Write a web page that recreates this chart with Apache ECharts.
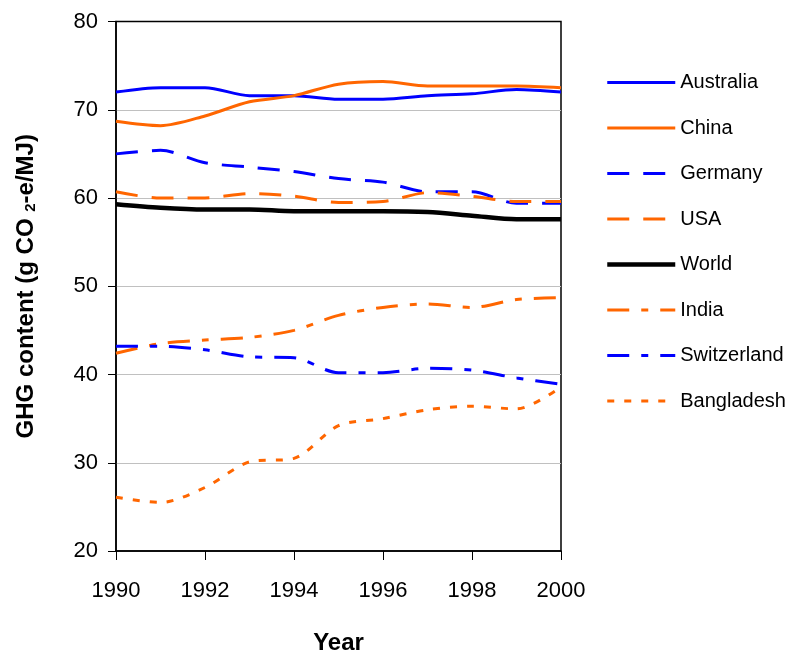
<!DOCTYPE html>
<html>
<head>
<meta charset="utf-8">
<script src="https://cdn.jsdelivr.net/npm/echarts@6/dist/echarts.min.js"></script>
<style>html,body{margin:0;padding:0;background:#fff;}#c{width:789px;height:660px;}</style>
</head>
<body>
<div id="c"></div>
<script>
const years = [1990,1991,1992,1993,1994,1995,1996,1997,1998,1999,2000];
const australia   = [72.0,72.5,72.5,71.6,71.6,71.2,71.2,71.6,71.8,72.3,72.0];
const china       = [68.7,68.2,69.3,70.9,71.6,72.9,73.2,72.7,72.7,72.7,72.5];
const germany     = [65.0,65.4,64.0,63.5,63.0,62.2,61.8,60.7,60.7,59.4,59.4];
const usa         = [60.7,60.0,60.0,60.5,60.2,59.5,59.6,60.6,60.2,59.6,59.6];
const world       = [59.3,58.9,58.7,58.7,58.5,58.5,58.5,58.4,58.0,57.6,57.6];
const india       = [42.4,43.5,43.9,44.2,45.0,46.7,47.6,48.0,47.6,48.5,48.7];
const switzerland = [43.2,43.2,42.8,42.0,41.9,40.2,40.2,40.7,40.5,39.6,38.9];
const bangladesh  = [26.1,25.5,27.2,30.1,30.5,34.2,35.0,36.0,36.4,36.1,38.6];
const yTicks = [20,30,40,50,60,70,80];
const xTicks = [1990,1992,1994,1996,1998,2000];

const BLUE = '#0000FF', ORANGE = '#FF6600', BLACK = '#000000';
const FONT = 'Liberation Sans, Arial, sans-serif';
function pairs(v){ return years.map((y,i)=>[y,v[i]]); }
const defs = [
  ['Australia', australia, BLUE, 3, 'solid'],
  ['China', china, ORANGE, 3, 'solid'],
  ['Germany', germany, BLUE, 3, [22,14]],
  ['USA', usa, ORANGE, 3, [22,14]],
  ['World', world, BLACK, 4.5, 'solid'],
  ['India', india, ORANGE, 3, [22,12,7,12]],
  ['Switzerland', switzerland, BLUE, 3, [22,12,7,12]],
  ['Bangladesh', bangladesh, ORANGE, 3, [7,10]]
];
const series = defs.map(([name, vals, color, width, type]) => ({
  name, type:'line', data: pairs(vals), symbol:'none', smooth:0.3,
  lineStyle:{color, width, type, cap:'butt'}, itemStyle:{color},
  emphasis:{disabled:true}
}));
const legendData = defs.map(([name, vals, color, width, type]) => ({
  name, lineStyle:{color, width, type, cap:'butt'}, itemStyle:{opacity:0, borderWidth:0}
}));
const chart = echarts.init(document.getElementById('c'), null, {renderer:'canvas'});
chart.setOption({
  animation:false,
  backgroundColor:'#fff',
  textStyle:{fontFamily:FONT},
  grid:{left:116, top:21.5, right:228, bottom:104, show:true, borderColor:'#000', borderWidth:1.5, backgroundColor:'transparent'},
  xAxis:{
    type:'value', min:1990, max:2000, interval:2,
    name:'Year', nameLocation:'middle', nameGap:80,
    nameTextStyle:{fontSize:24, fontWeight:'bold', color:'#000', fontFamily:FONT},
    axisLine:{show:true, lineStyle:{color:'#000', width:1.5}},
    axisTick:{show:true, length:9, lineStyle:{color:'#000', width:1}},
    axisLabel:{fontSize:22, color:'#000', margin:29, formatter: v => xTicks.includes(v) ? String(v) : ''},
    splitLine:{show:false}
  },
  yAxis:{
    type:'value', min:20, max:80, interval:10,
    name:'{m|GHG content (g CO }{s|2}{m|-e/MJ)}', nameLocation:'middle', nameGap:78, nameRotate:90,
    nameTextStyle:{
      rich:{
        m:{fontSize:24, fontWeight:'bold', color:'#000', fontFamily:FONT, lineHeight:28, verticalAlign:'bottom'},
        s:{fontSize:15, fontWeight:'bold', color:'#000', fontFamily:FONT, lineHeight:28, verticalAlign:'bottom'}
      }
    },
    axisLine:{show:true, lineStyle:{color:'#000', width:1.5}},
    axisTick:{show:true, length:8, lineStyle:{color:'#000', width:1}},
    axisLabel:{fontSize:22, color:'#000', margin:18, formatter: v => yTicks.includes(v) ? String(v) : ''},
    splitLine:{show:true, lineStyle:{color:['transparent','#c0c0c0','#c0c0c0','#c0c0c0','#c0c0c0','#c0c0c0','transparent'], width:1}}
  },
  legend:{
    orient:'vertical', left:605, top:72.5, padding:0,
    itemWidth:68, itemHeight:14, itemGap:25.5,
    itemStyle:{opacity:0, borderWidth:0},
    textStyle:{fontSize:20, color:'#000', lineHeight:20, fontFamily:FONT},
    data: legendData
  },
  series
});
</script>
</body>
</html>
